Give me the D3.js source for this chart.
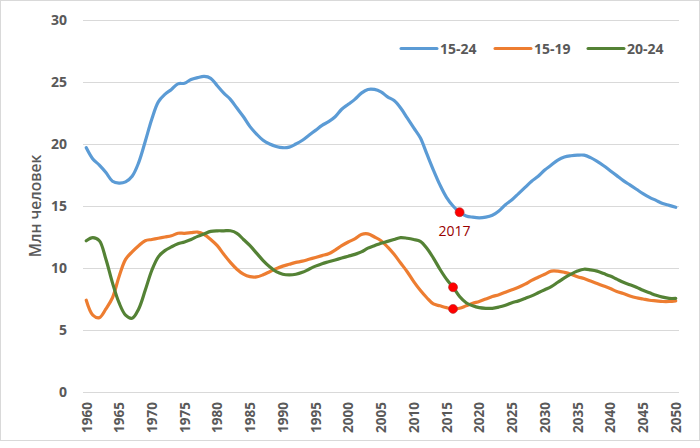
<!DOCTYPE html>
<html><head><meta charset="utf-8">
<script src="https://cdn.jsdelivr.net/npm/d3@7"></script>
<style>body{margin:0;background:#fff}svg{display:block}text{font-family:"Open Sans",sans-serif}</style>
</head><body><svg id="c" width="700" height="448"></svg>
<script>
const years = d3.range(1960, 2051);
const s1524 = [19.7,18.8,18.3,17.7,17.0,16.85,16.95,17.4,18.5,20.2,22.0,23.4,24.0,24.4,24.85,24.9,25.2,25.35,25.45,25.3,24.7,24.1,23.6,22.9,22.2,21.4,20.8,20.3,20.0,19.8,19.7,19.75,20.0,20.3,20.7,21.1,21.5,21.8,22.2,22.8,23.2,23.6,24.1,24.4,24.4,24.2,23.8,23.5,22.9,22.1,21.3,20.5,19.2,17.9,16.7,15.7,15.0,14.5,14.2,14.1,14.05,14.1,14.25,14.6,15.1,15.5,16.0,16.5,17.0,17.4,17.9,18.3,18.7,18.95,19.05,19.1,19.1,18.9,18.6,18.25,17.85,17.45,17.05,16.7,16.35,16.0,15.7,15.45,15.2,15.05,14.9];
const s1519 = [7.4,6.2,6.0,6.7,7.6,9.3,10.7,11.3,11.8,12.2,12.3,12.4,12.5,12.6,12.8,12.8,12.85,12.9,12.7,12.3,11.8,11.1,10.45,9.9,9.5,9.3,9.28,9.45,9.7,9.95,10.15,10.3,10.45,10.55,10.7,10.85,11.0,11.15,11.45,11.8,12.1,12.35,12.7,12.75,12.5,12.2,11.7,11.1,10.4,9.7,8.9,8.2,7.6,7.1,6.95,6.8,6.7,6.75,6.95,7.15,7.3,7.5,7.7,7.85,8.05,8.25,8.45,8.7,9.0,9.25,9.5,9.75,9.75,9.65,9.5,9.3,9.15,8.95,8.75,8.55,8.35,8.1,7.95,7.75,7.6,7.5,7.4,7.35,7.3,7.3,7.35];
const s2024 = [12.2,12.45,12.2,10.7,8.8,7.2,6.2,5.95,6.7,8.2,9.8,10.9,11.4,11.7,11.95,12.1,12.3,12.55,12.75,12.95,13.0,13.0,13.0,12.8,12.3,11.8,11.2,10.6,10.1,9.7,9.5,9.45,9.5,9.65,9.9,10.15,10.35,10.5,10.65,10.8,10.95,11.1,11.3,11.6,11.8,12.0,12.15,12.3,12.45,12.4,12.3,12.15,11.6,10.8,9.9,9.1,8.45,7.7,7.2,6.95,6.8,6.75,6.75,6.85,7.0,7.2,7.35,7.55,7.75,8.0,8.25,8.5,8.85,9.2,9.5,9.75,9.9,9.85,9.75,9.55,9.35,9.1,8.85,8.65,8.45,8.2,8.0,7.8,7.65,7.55,7.55];
const seriesNames = ["15-24","15-19","20-24"];
const seriesColors = ["#5B9BD5","#ED7D31","#548235"];
const yTicks = [0,5,10,15,20,25,30];
const xTickYears = d3.range(1960, 2051, 5);
const markers = [{year:2017, series:0}, {year:2016, series:2}, {year:2016, series:1}];
const markerLabel = "2017";
const yTitle = "Млн человек";

const svg = d3.select("#c");
const allSeries = [s1524, s1519, s2024];
const x = d3.scalePoint().domain(years).range([83, 679]).padding(0.5);
const y = d3.scaleLinear().domain([0, 30]).range([392, 20]);

svg.append("rect").attr("x",0.5).attr("y",0.5).attr("width",699).attr("height",440).attr("fill","#fff").attr("stroke","#d9d9d9");

svg.append("g").selectAll("line").data(yTicks).join("line")
  .attr("x1",83).attr("x2",679).attr("y1",d=>Math.round(y(d))+0.5).attr("y2",d=>Math.round(y(d))+0.5)
  .attr("stroke","#d9d9d9").attr("stroke-width",1);

const yAxis = d3.axisLeft(y).tickValues(yTicks).tickSize(0).tickPadding(0);
const ya = svg.append("g").attr("transform","translate(67,0)").call(yAxis);
ya.select(".domain").remove();
ya.selectAll("text").attr("font-family","Open Sans").attr("font-size",14).attr("font-weight",700).attr("fill","#595959");

const xAxis = d3.axisBottom(x).tickValues(xTickYears).tickSize(0).tickPadding(0);
const xa = svg.append("g").attr("transform","translate(0,402)").call(xAxis);
xa.select(".domain").remove();
xa.selectAll("text").attr("font-family","Open Sans").attr("font-size",13.5).attr("font-weight",700).attr("fill","#595959")
  .attr("text-anchor","end").attr("dy","0.35em").attr("x",0).attr("y",0)
  .attr("transform","rotate(-90)");

svg.append("text").attr("transform","translate(41,206) rotate(-90)").attr("text-anchor","middle")
  .attr("font-size",15.5).attr("font-weight",600).attr("fill","#595959").text(yTitle);

const line = d3.line().x((d,i)=>x(years[i])).y(d=>y(d)).curve(d3.curveCatmullRom.alpha(0.5));
svg.append("g").selectAll("path").data(allSeries).join("path")
  .attr("d", d=>line(d)).attr("fill","none")
  .attr("stroke",(d,i)=>seriesColors[i]).attr("stroke-width",3.2).attr("stroke-linejoin","round").attr("stroke-linecap","round");

svg.append("g").selectAll("circle").data(markers).join("circle")
  .attr("cx",d=>x(d.year)).attr("cy",d=>y(allSeries[d.series][years.indexOf(d.year)]))
  .attr("r",4.5).attr("fill","#ff0000").attr("stroke","#b03030").attr("stroke-opacity",0.6).attr("stroke-width",1);

svg.append("text").attr("x",x(2016)+1.5).attr("y",236).attr("text-anchor","middle")
  .attr("font-size",14).attr("fill","#990000").text(markerLabel);

const lg = svg.append("g");
const legendX = [401, 495, 588];
seriesNames.forEach((n,i)=>{
  lg.append("line").attr("x1",legendX[i]).attr("x2",legendX[i]+36).attr("y1",48.5).attr("y2",48.5)
    .attr("stroke",seriesColors[i]).attr("stroke-width",3).attr("stroke-linecap","round");
  lg.append("text").attr("x",legendX[i]+39).attr("y",53.5).attr("font-size",14).attr("font-weight",700)
    .attr("fill","#595959").text(n);
});
</script></body></html>
